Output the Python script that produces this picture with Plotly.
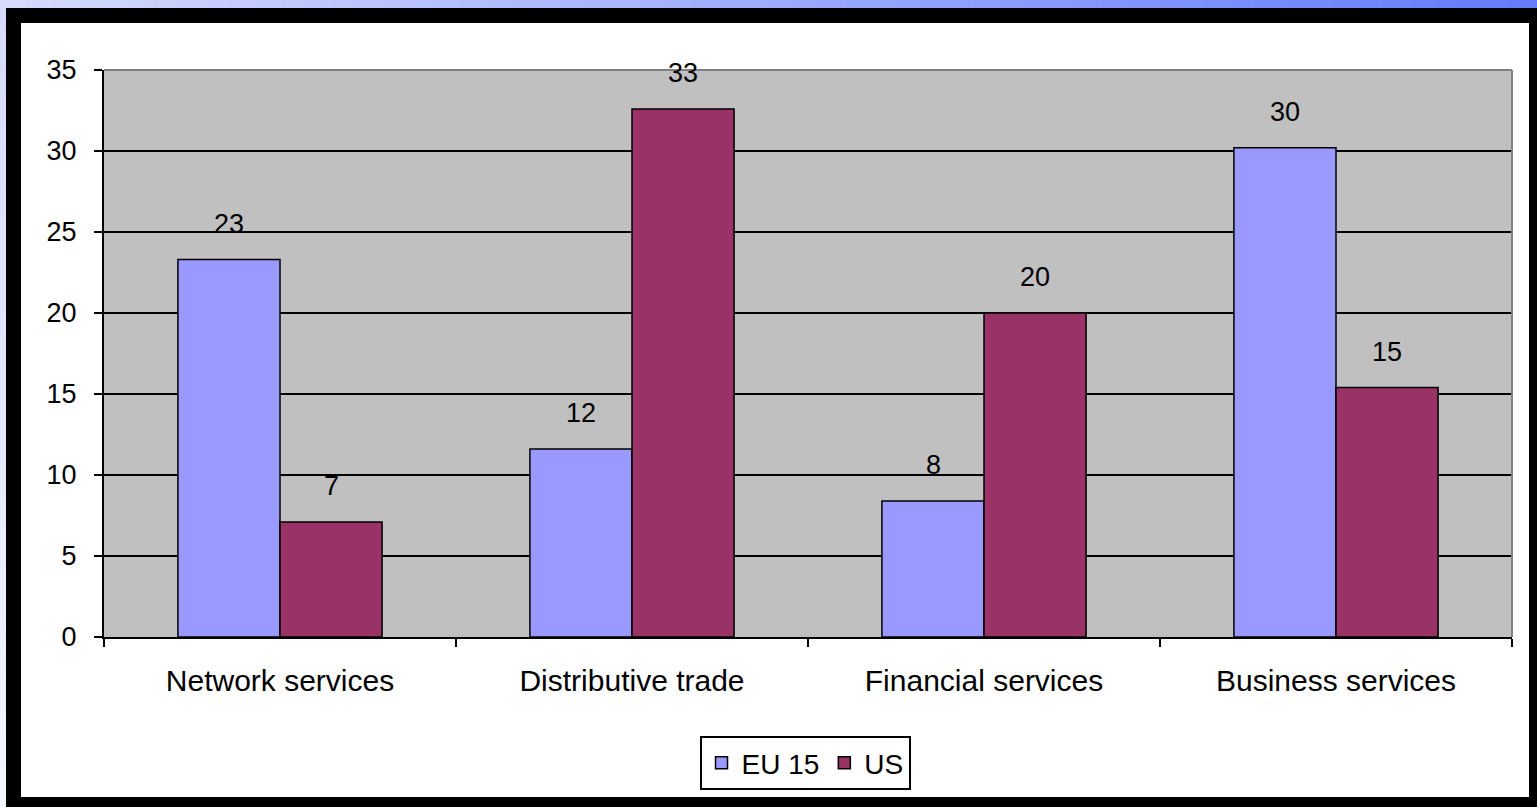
import plotly.graph_objects as go

categories = ["Network services", "Distributive trade", "Financial services", "Business services"]
eu15 = [23.3, 11.6, 8.4, 30.2]
us = [7.1, 32.6, 20.0, 15.4]
y_ticks = [0, 5, 10, 15, 20, 25, 30, 35]

W, H = 1537, 807
PL, PR, PT, PB = 104, 1512, 70, 637   # plot area in pixels


def px(X):
    return (X - PL) / (PR - PL)


def py(Y):
    return (PB - Y) / (PB - PT)


FONT = "Arial, Liberation Sans, sans-serif"

fig = go.Figure()
fig.add_trace(go.Bar(name="EU 15", x=categories, y=eu15, marker=dict(color="#9999FF", line=dict(color="#000000", width=1.5))))
fig.add_trace(go.Bar(name="US", x=categories, y=us, marker=dict(color="#993366", line=dict(color="#000000", width=1.5))))

shapes = []
n = 60
def lerp(c1, c2, t):
    return "rgb(%d,%d,%d)" % tuple(round(a + (b - a) * t) for a, b in zip(c1, c2))
for i in range(n):
    x0 = W * i / n
    x1 = W * (i + 1) / n + 1
    shapes.append(dict(type="rect", xref="paper", yref="paper", x0=px(x0), x1=px(x1), y0=py(0), y1=py(9),
                       fillcolor=lerp((214, 218, 252), (100, 124, 252), i / (n - 1)), line=dict(width=0), layer="below"))
for i in range(n):
    y0 = H * i / n
    y1 = H * (i + 1) / n + 1
    shapes.append(dict(type="rect", xref="paper", yref="paper", x0=px(0), x1=px(7), y0=py(y0), y1=py(y1),
                       fillcolor=lerp((214, 218, 252), (244, 246, 255), i / (n - 1)), line=dict(width=0), layer="below"))
shapes.append(dict(type="rect", xref="paper", yref="paper", x0=px(6), x1=px(W + 2), y0=py(8), y1=py(H + 2),
                   fillcolor="#000000", line=dict(width=0), layer="below"))
shapes.append(dict(type="rect", xref="paper", yref="paper", x0=px(21), x1=px(1529), y0=py(23), y1=py(797),
                   fillcolor="#FFFFFF", line=dict(width=0), layer="below"))
shapes.append(dict(type="rect", xref="paper", yref="paper", x0=0, x1=1, y0=0, y1=1,
                   fillcolor="#C0C0C0", line=dict(width=0), layer="below"))
shapes.append(dict(type="line", xref="paper", yref="paper", x0=0, x1=1, y0=1, y1=1, line=dict(color="#808080", width=2), layer="above"))
shapes.append(dict(type="line", xref="paper", yref="paper", x0=1, x1=1, y0=0, y1=1, line=dict(color="#808080", width=2), layer="above"))

annotations = []
for vals, shift in ((eu15, -51), (us, 51)):
    for c, v in zip(categories, vals):
        annotations.append(dict(x=c, y=v, xref="x", yref="y", text="%d" % round(v), showarrow=False,
                                xshift=shift, yshift=19, yanchor="bottom",
                                font=dict(family=FONT, size=27, color="#000000")))

fig.update_layout(
    width=W, height=H,
    margin=dict(l=PL, r=W - PR, t=PT, b=H - PB, pad=0),
    paper_bgcolor="#E0E4FE",
    plot_bgcolor="rgba(0,0,0,0)",
    barmode="group", bargap=0.42, bargroupgap=0,
    font=dict(family=FONT, size=27, color="#000000"),
    shapes=shapes,
    annotations=annotations,
    showlegend=True,
    legend=dict(orientation="h", x=px(805), y=py(763), xanchor="center", yanchor="middle",
                bgcolor="#FFFFFF", bordercolor="#000000", borderwidth=2,
                font=dict(family=FONT, size=28, color="#000000"), itemwidth=30, tracegroupgap=0),
    xaxis=dict(showline=True, linecolor="#000000", linewidth=2, ticks="outside", tickson="boundaries",
               ticklen=8, tickcolor="#000000", tickwidth=2, showgrid=False,
               tickfont=dict(family=FONT, size=30, color="#000000"), ticklabelstandoff=16),
    yaxis=dict(range=[0, 35], tickvals=y_ticks, showline=True, linecolor="#000000", linewidth=2,
               ticks="outside", ticklen=8, tickcolor="#000000", tickwidth=2,
               showgrid=True, gridcolor="#000000", gridwidth=2, zeroline=False,
               tickfont=dict(family=FONT, size=27, color="#000000"), ticklabelstandoff=12),
)

fig.write_html("out.html")
